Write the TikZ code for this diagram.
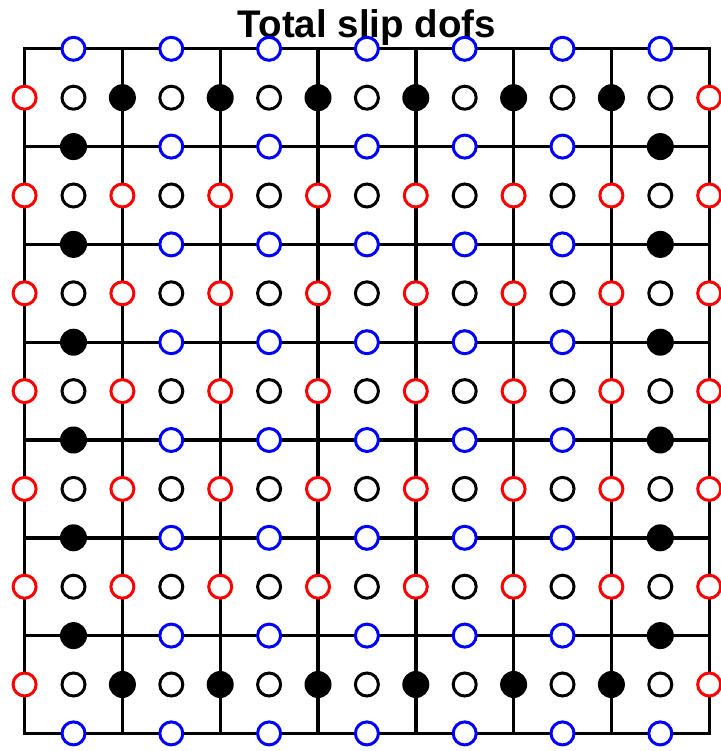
\documentclass[tikz,border=0pt]{standalone}
\usepackage{fontspec}
\setmainfont{Liberation Sans}
\definecolor{slipred}{HTML}{FF0000}
\definecolor{slipblue}{HTML}{0000FF}
\usetikzlibrary{positioning}
\tikzset{
  gridline/.style={line width=3.4pt, line cap=rect},
  opendof/.style={circle, draw=#1, line width=3pt, fill=white, minimum size=23pt, inner sep=0pt},
  fixeddof/.style={circle, fill=black, minimum size=27pt, inner sep=0pt}
}

\begin{document}
\begin{tikzpicture}[x=1pt, y=-1pt]
  \useasboundingbox (0,0) rectangle (720,751);
  \def\gx{24.6} \def\gy{48.8} \def\gs{97.8}
  \node[font=\fontsize{38.5}{42}\selectfont\bfseries, anchor=base, inner sep=0pt] (title) at (367,37.5) {Total slip dofs};
  % mesh lines
  \foreach \k in {0,...,7} {
    \draw[gridline] (\gx+\k*\gs,\gy) -- (\gx+\k*\gs,\gy+7*\gs);
    \draw[gridline] (\gx,\gy+\k*\gs) -- (\gx+7*\gs,\gy+\k*\gs);
  }
  % cell centres
  \foreach \i in {0,...,6}
    \foreach \j in {0,...,6}
      \node[opendof=black] (c-\i-\j) at (\gx+\i*\gs+\gs/2, \gy+\j*\gs+\gs/2) {};
  % vertical edges
  \foreach \i in {0,...,7}
    \foreach \j in {0,...,6} {
      \pgfmathtruncatemacro{\isfree}{(\i==0 || \i==7 || (\j>0 && \j<6)) ? 1 : 0}
      \ifnum\isfree=1
        \node[opendof=slipred] (v-\i-\j) at (\gx+\i*\gs, \gy+\j*\gs+\gs/2) {};
      \else
        \node[fixeddof] (v-\i-\j) at (\gx+\i*\gs, \gy+\j*\gs+\gs/2) {};
      \fi
    }
  % horizontal edges
  \foreach \i in {0,...,6}
    \foreach \j in {0,...,7} {
      \pgfmathtruncatemacro{\isfree}{(\j==0 || \j==7 || (\i>0 && \i<6)) ? 1 : 0}
      \ifnum\isfree=1
        \node[opendof=slipblue] (h-\i-\j) at (\gx+\i*\gs+\gs/2, \gy+\j*\gs) {};
      \else
        \node[fixeddof] (h-\i-\j) at (\gx+\i*\gs+\gs/2, \gy+\j*\gs) {};
      \fi
    }
\end{tikzpicture}
\end{document}
